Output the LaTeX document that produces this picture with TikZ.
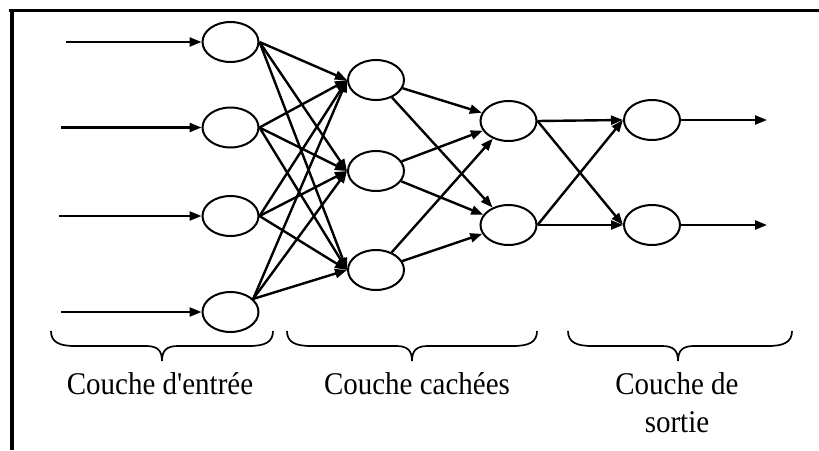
\documentclass[tikz,border=0pt]{standalone}
\usepackage{fontspec}
\usepackage{graphicx}
\setmainfont{Liberation Serif}[Ligatures=TeXOff]
\usetikzlibrary{arrows.meta,shapes.geometric}

% curly brace under a layer: left end, tip, right end (x values)
\newcommand\layerbrace[3]{%
  \draw[brace] (#1,331) .. controls (#1,342) and ({#1+8},346) .. ({#1+24},346)
    -- ({#2-16},346) .. controls ({#2-5},346) and (#2,350) .. (#2,361)
    .. controls (#2,350) and ({#2+5},346) .. ({#2+16},346)
    -- ({#3-24},346) .. controls ({#3-8},346) and (#3,342) .. (#3,331);}

\begin{document}
\begin{tikzpicture}[x=1pt,y=-1pt,
  neuron/.style={ellipse,draw,line width=2pt,minimum width=56pt,minimum height=40pt,inner sep=0pt},
  link/.style={line width=2.4pt,-{Triangle[length=12pt,width=9pt]}},
  layertext/.style={font=\fontsize{29}{34}\selectfont,inner sep=0pt,anchor=base},
  brace/.style={line width=1.7pt}]
\useasboundingbox (0,0) rectangle (819,450);
\fill[white] (0,0) rectangle (819,450);

% frame
\draw[line width=3pt] (9,10.5) -- (819,10.5);
\draw[line width=4pt] (11.5,9) -- (11.5,450);

% input layer
\node[neuron] (i1) at (230.5,42) {};
\node[neuron] (i2) at (230.5,127.5) {};
\node[neuron] (i3) at (230.5,216) {};
\node[neuron] (i4) at (230.5,312) {};
% first hidden layer
\node[neuron] (h1) at (376,80) {};
\node[neuron] (h2) at (376,171) {};
\node[neuron] (h3) at (376,270) {};
% second hidden layer
\node[neuron] (g1) at (508.5,121) {};
\node[neuron] (g2) at (508.5,225) {};
% output layer
\node[neuron] (o1) at (652,120) {};
\node[neuron] (o2) at (652,225) {};

% free ends of the input and output arrows
\coordinate (s1) at (66,42);
\coordinate (s2) at (61,127.5);
\coordinate (s3) at (59,216);
\coordinate (s4) at (61,312);
\coordinate (e1) at (767,120);
\coordinate (e2) at (767,225);

\foreach \i in {1,...,4} \draw[link] (s\i) -- (i\i.west);
\foreach \i in {1,2,3} \foreach \h in {1,2,3} \draw[link] (i\i.east) -- (h\h.west);
\foreach \h in {1,2,3} \draw[link] (i4.30) -- (h\h.west);
\foreach \h in {1,2,3} \foreach \g in {1,2} \draw[link] (h\h) -- (g\g);
\foreach \g in {1,2} \foreach \o in {1,2} \draw[link] (g\g.east) -- (o\o.west);
\foreach \o in {1,2} \draw[link] (o\o.east) -- (e\o);

% braces and layer names
\layerbrace{51}{162}{273}
\layerbrace{287}{412}{537}
\layerbrace{568}{678}{792}
\node[layertext] (t1) at (160,394) {\scalebox{1}[1.09]{Couche d'entrée}};
\node[layertext] (t2) at (417,394) {\scalebox{1}[1.09]{Couche cachées}};
\node[layertext] (t3) at (677,394) {\scalebox{1}[1.09]{Couche de}};
\node[layertext] (t4) at (677,432) {\scalebox{1}[1.09]{sortie}};
\end{tikzpicture}
\end{document}
